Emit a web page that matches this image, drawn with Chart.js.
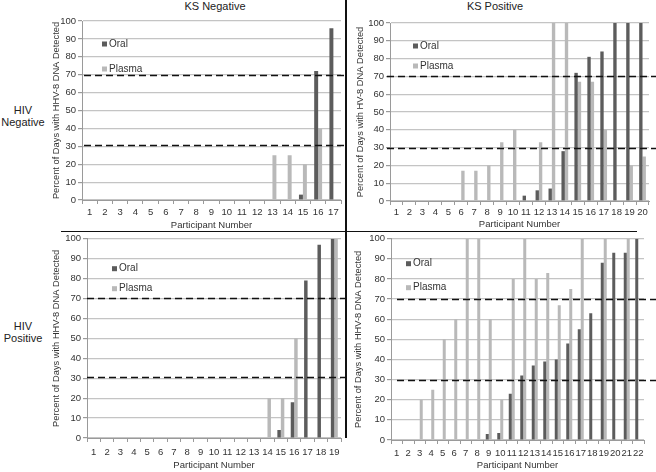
<!DOCTYPE html>
<html>
<head>
<meta charset="utf-8">
<script src="https://cdn.jsdelivr.net/npm/chart.js@4.4.1/dist/chart.umd.min.js"></script>
<style>
  body { margin: 0; background: #fff; }
  #wrap { position: relative; width: 656px; height: 472px; overflow: hidden; font-family: "Liberation Sans", Arial, sans-serif; color: #222; }
  canvas { position: absolute; }
  .lbl { position: absolute; font-size: 11px; text-align: center; line-height: 12px; }
  .line { position: absolute; background: #111; }
</style>
</head>
<body>
<div id="wrap">
  <div class="lbl" style="left:160px; top:0px; width:110px;">KS Negative</div>
  <div class="lbl" style="left:440px; top:0px; width:110px;">KS Positive</div>
  <div class="lbl" style="left:0px; top:104px; width:46px;">HIV<br>Negative</div>
  <div class="lbl" style="left:0px; top:320px; width:46px;">HIV<br>Positive</div>

  <canvas id="c1" width="306" height="231" style="left:40px; top:0px;"></canvas>
  <canvas id="c2" width="310" height="231" style="left:346px; top:0px;"></canvas>
  <canvas id="c3" width="306" height="241" style="left:40px; top:231px;"></canvas>
  <canvas id="c4" width="310" height="241" style="left:346px; top:231px;"></canvas>

  <div class="line" style="left:345px; top:0px; width:1.5px; height:438px;"></div>
  <div class="line" style="left:61px; top:230.5px; width:576px; height:1.5px;"></div>
</div>

<script>
// HIV negative / KS negative
const labels1 = ["1","2","3","4","5","6","7","8","9","10","11","12","13","14","15","16","17"];
const oral1   = [0,0,0,0,0,0,0,0,0,0,0,0,0,0,3,72,96];
const plasma1 = [0,0,0,0,0,0,0,0,0,0,0,0,25,25,20,40,0];
const cuts1   = [70, 31];

// HIV negative / KS positive
const labels2 = ["1","2","3","4","5","6","7","8","9","10","11","12","13","14","15","16","17","18","19","20"];
const oral2   = [0,0,0,0,0,0,0,0,0,0,3,6,7,28,72,81,84,100,100,100];
const plasma2 = [0,0,0,0,0,17,17,20,33,40,0,33,100,100,67,67,40,0,20,25];
const cuts2   = [70, 30];

// HIV positive / KS negative
const labels3 = ["1","2","3","4","5","6","7","8","9","10","11","12","13","14","15","16","17","18","19"];
const oral3   = [0,0,0,0,0,0,0,0,0,0,0,0,0,0,4,18,79,97,100];
const plasma3 = [0,0,0,0,0,0,0,0,0,0,0,0,0,20,20,50,0,0,100];
const cuts3   = [70, 30.5];

// HIV positive / KS positive
const labels4 = ["1","2","3","4","5","6","7","8","9","10","11","12","13","14","15","16","17","18","19","20","21","22"];
const oral4   = [0,0,0,0,0,0,0,0,3,3.5,23,32,37,39,40,48,55,63,88,93,93,100];
const plasma4 = [0,0,20,25,50,60,100,100,60,20,80,100,80,83,67,75,100,0,100,0,100,0];
const cuts4   = [70, 30];

const yTicks = ["0","10","20","30","40","50","60","70","80","90","100"];

const FONT = "'Liberation Sans', Arial, sans-serif";
const ORAL = "#5c5c5c";
const PLASMA = "#b9b9b9";

// dashed cut-off lines, run past the plot to the right edge of the canvas
const cutLines = {
  id: "cutLines",
  afterDatasetsDraw(chart, args, opts) {
    let ctx = chart.ctx;
    let y = chart.scales.y;
    ctx.save();
    ctx.strokeStyle = "#111";
    ctx.lineWidth = 1.6;
    ctx.setLineDash([7, 4]);
    opts.values.forEach(v => {
      let py = Math.round(y.getPixelForValue(v)) + 0.5;
      ctx.beginPath();
      ctx.moveTo(chart.chartArea.left + opts.start, py);
      ctx.lineTo(chart.width, py);
      ctx.stroke();
    });
    ctx.restore();
  }
};

// little Excel style legend inside the plot
const boxLegend = {
  id: "boxLegend",
  afterDraw(chart, args, opts) {
    let ctx = chart.ctx;
    let a = chart.chartArea;
    ctx.save();
    ctx.font = "10px " + FONT;
    ctx.textBaseline = "middle";
    chart.data.datasets.forEach((ds, i) => {
      let x = a.left + opts.x;
      let y = a.top + opts.ys[i];
      ctx.fillStyle = ds.backgroundColor;
      ctx.fillRect(x, y - 2.5, 5, 5);
      ctx.fillStyle = "#333";
      ctx.fillText(ds.label, x + 7, y);
    });
    ctx.restore();
  }
};

function makePanel(id, labels, oral, plasma, cuts, yTitle, lay) {
  let ctx = document.getElementById(id).getContext("2d");
  return new Chart(ctx, {
    type: "bar",
    data: {
      labels,
      datasets: [
        { label: "Oral", data: oral, backgroundColor: ORAL, categoryPercentage: 0.52, barPercentage: 1.0 },
        { label: "Plasma", data: plasma, backgroundColor: PLASMA, categoryPercentage: 0.52, barPercentage: 1.0 }
      ]
    },
    options: {
      responsive: false,
      animation: false,
      layout: { padding: { left: 0, top: lay.pt, right: lay.pr, bottom: 0 } },
      plugins: {
        legend: { display: false },
        tooltip: { enabled: false },
        cutLines: { values: cuts, start: lay.dashStart },
        boxLegend: { x: lay.lx, ys: lay.ly }
      },
      scales: {
        x: {
          grid: { display: true, drawOnChartArea: false, drawTicks: true, tickLength: 4, color: "#9a9a9a", offset: true },
          border: { color: "#9a9a9a", width: 1 },
          ticks: { autoSkip: false, maxRotation: 0, minRotation: 0, padding: lay.xpad, color: "#333", font: { family: FONT, size: 9.5 } },
          title: { display: true, text: "Participant Number", color: "#333", font: { family: FONT, size: 9.5 }, padding: { top: 0, bottom: lay.tpb } },
          afterFit: s => { s.height = lay.xh; }
        },
        y: {
          min: 0,
          max: 100,
          grid: { color: "#c4c4c4", lineWidth: 1.2, tickLength: 4, tickColor: "#9a9a9a" },
          border: { color: "#9a9a9a", width: 1 },
          ticks: {
            stepSize: 10,
            padding: 2,
            color: "#333",
            font: { family: FONT, size: 9.5 },
            callback: (v, i) => yTicks[i]
          },
          title: { display: true, text: yTitle, color: "#333", font: { family: FONT, size: 9.3 }, padding: { top: lay.ytp, bottom: 0 } },
          afterFit: s => { s.width = lay.yw; }
        }
      }
    },
    plugins: [cutLines, boxLegend]
  });
}

const titleA = "Percent of Days with HHV-8 DNA Detected";
const titleB = "Percent of Days with HV-8 DNA Detected";

makePanel("c1", labels1, oral1, plasma1, cuts1, titleA,
  { pt: 21, pr: 5, yw: 42, xh: 31, xpad: 3, tpb: 0, ytp: 10.4, dashStart: 2, lx: 20, ly: [23, 48] });
makePanel("c2", labels2, oral2, plasma2, cuts2, titleB,
  { pt: 23, pr: 7, yw: 44, xh: 30, xpad: 2, tpb: 1.3, ytp: 8.4, dashStart: -3, lx: 23, ly: [23, 43] });
makePanel("c3", labels3, oral3, plasma3, cuts3, titleA,
  { pt: 7, pr: 5, yw: 47, xh: 34, xpad: 4.5, tpb: 1.3, ytp: 10.4, dashStart: 0, lx: 25, ly: [30, 50] });
makePanel("c4", labels4, oral4, plasma4, cuts4, titleA,
  { pt: 6, pr: 12, yw: 45, xh: 32, xpad: 3.5, tpb: 1.3, ytp: 6.4, dashStart: 6, lx: 15, ly: [25, 49] });
</script>
</body>
</html>
